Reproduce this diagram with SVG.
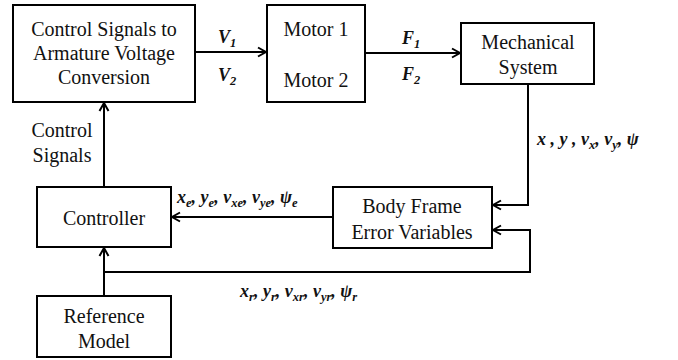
<svg xmlns="http://www.w3.org/2000/svg" width="678" height="360" viewBox="0 0 678 360">
  <defs>
    <marker id="arrow" markerUnits="userSpaceOnUse" markerWidth="12" markerHeight="12" viewBox="-10 -6 12 12" refX="0" refY="0" orient="auto">
      <path d="M-8,-4.5 L0,0 L-8,4.5" fill="none" stroke="#000" stroke-width="2"/>
    </marker>
  </defs>

  <!-- connectors -->
  <g id="connectors" fill="none" stroke="#000" stroke-width="2">
    <line x1="195" y1="52" x2="266" y2="52" marker-end="url(#arrow)"/>
    <line x1="365" y1="53" x2="460" y2="53" marker-end="url(#arrow)"/>
    <polyline points="528,84 528,205 493,205" marker-end="url(#arrow)"/>
    <polyline points="104,272 530,272 530,230 493,230" marker-end="url(#arrow)"/>
    <line x1="333" y1="217" x2="172" y2="217" marker-end="url(#arrow)"/>
    <line x1="104" y1="187" x2="104" y2="103" marker-end="url(#arrow)"/>
    <line x1="104" y1="296" x2="104" y2="248" marker-end="url(#arrow)"/>
  </g>

  <!-- signal labels -->
  <g id="signals" fill="#111">
    <g font-family="Liberation Serif" font-size="18" font-weight="bold" font-style="italic">
      <text x="218" y="43">V<tspan font-size="12.5" dy="4">1</tspan></text>
      <text x="218" y="81">V<tspan font-size="12.5" dy="4">2</tspan></text>
      <text x="402" y="44">F<tspan font-size="12.5" dy="4">1</tspan></text>
      <text x="402" y="80">F<tspan font-size="12.5" dy="4">2</tspan></text>
      <text x="537" y="145">x , y , v<tspan font-size="12.5" dy="4">x</tspan><tspan dy="-4">, v</tspan><tspan font-size="12.5" dy="4">y</tspan><tspan dy="-4">, &#968;</tspan></text>
      <text x="177" y="203">x<tspan font-size="12.5" dy="4">e</tspan><tspan dy="-4">, y</tspan><tspan font-size="12.5" dy="4">e</tspan><tspan dy="-4">, v</tspan><tspan font-size="12.5" dy="4">xe</tspan><tspan dy="-4">, v</tspan><tspan font-size="12.5" dy="4">ye</tspan><tspan dy="-4">, &#968;</tspan><tspan font-size="12.5" dy="4">e</tspan></text>
      <text x="240" y="297">x<tspan font-size="12.5" dy="4">r</tspan><tspan dy="-4">, y</tspan><tspan font-size="12.5" dy="4">r</tspan><tspan dy="-4">, v</tspan><tspan font-size="12.5" dy="4">xr</tspan><tspan dy="-4">, v</tspan><tspan font-size="12.5" dy="4">yr</tspan><tspan dy="-4">, &#968;</tspan><tspan font-size="12.5" dy="4">r</tspan></text>
    </g>
    <g font-family="Liberation Serif" font-size="20" text-anchor="middle">
      <text x="62" y="137">Control</text>
      <text x="62" y="162">Signals</text>
    </g>
  </g>

  <!-- blocks -->
  <g fill="#111" font-family="Liberation Serif" font-size="20" text-anchor="middle">
    <g id="conversion">
      <rect x="13" y="5" width="182" height="97" fill="#fff" stroke="#000" stroke-width="2"/>
      <text x="104" y="36">Control Signals to</text>
      <text x="104" y="60">Armature Voltage</text>
      <text x="104" y="84">Conversion</text>
    </g>

    <g id="motors">
      <rect x="267" y="5" width="98" height="97" fill="#fff" stroke="#000" stroke-width="2"/>
      <text x="316" y="36">Motor 1</text>
      <text x="316" y="87">Motor 2</text>
    </g>

    <g id="mechanical">
      <rect x="461" y="23" width="133" height="61" fill="#fff" stroke="#000" stroke-width="2"/>
      <text x="528" y="49">Mechanical</text>
      <text x="528" y="74">System</text>
    </g>

    <g id="body-frame">
      <rect x="333" y="187" width="159" height="61" fill="#fff" stroke="#000" stroke-width="2"/>
      <text x="412" y="213">Body Frame</text>
      <text x="412" y="239">Error Variables</text>
    </g>

    <g id="controller">
      <rect x="37" y="187" width="134" height="60" fill="#fff" stroke="#000" stroke-width="2"/>
      <text x="104" y="225">Controller</text>
    </g>

    <g id="reference-model">
      <rect x="37" y="296" width="134" height="61" fill="#fff" stroke="#000" stroke-width="2"/>
      <text x="104" y="323">Reference</text>
      <text x="104" y="348">Model</text>
    </g>
  </g>
</svg>
